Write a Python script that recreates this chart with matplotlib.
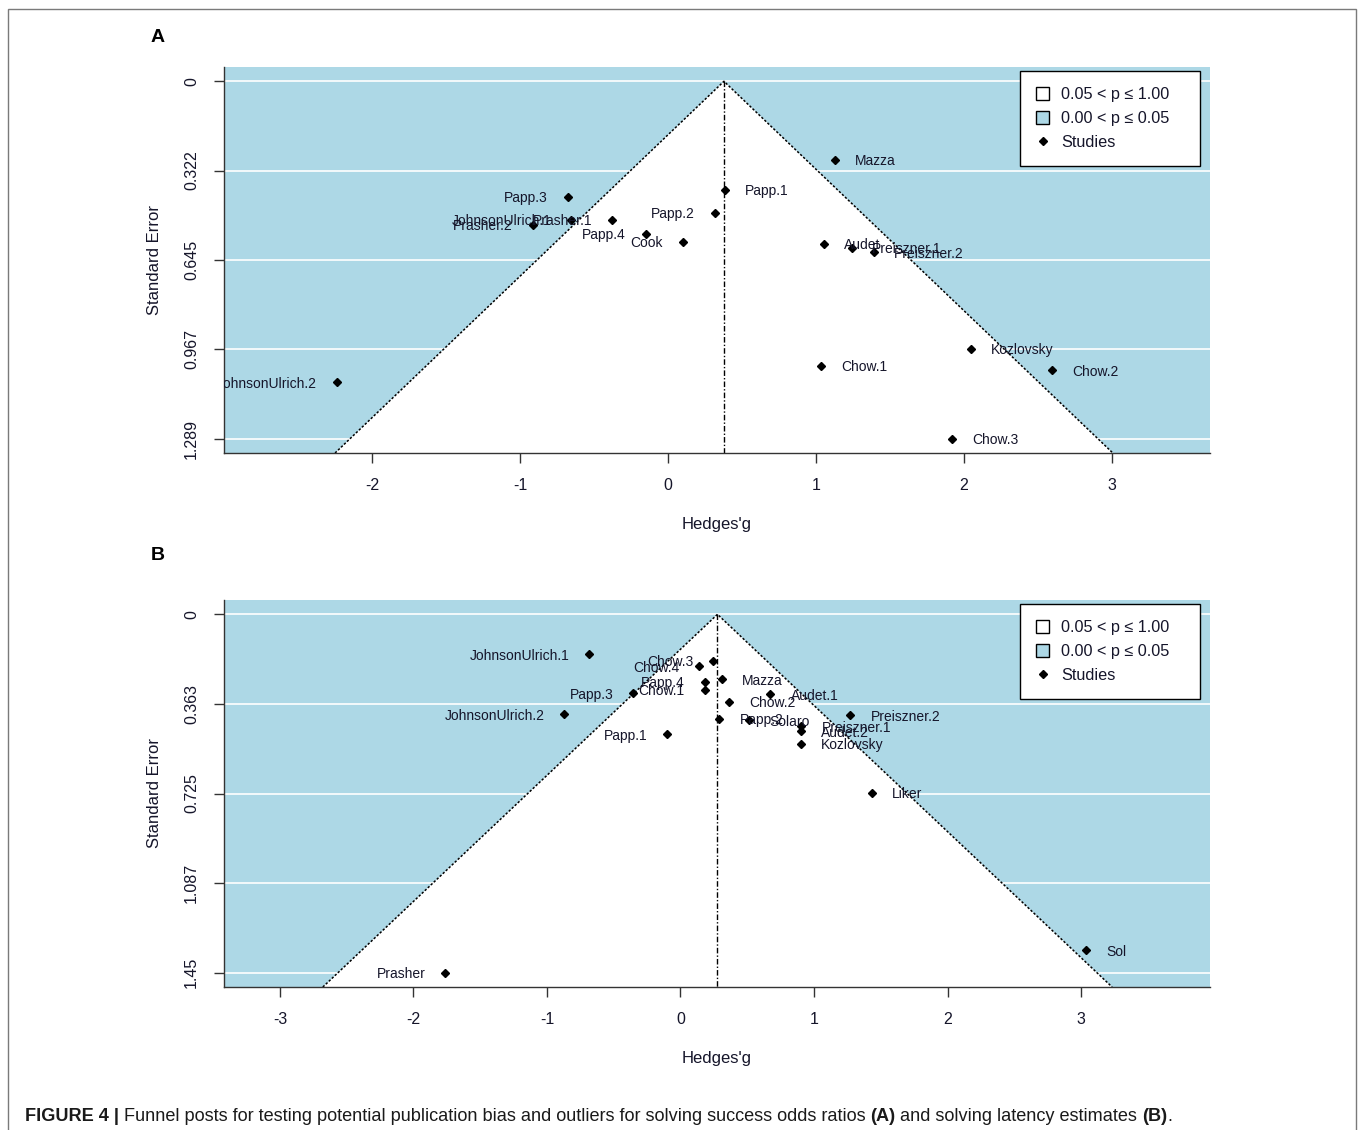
import numpy as np
import matplotlib
matplotlib.use("Agg")
import matplotlib.pyplot as plt
from matplotlib.patches import Patch, Rectangle
from matplotlib.lines import Line2D
from matplotlib import font_manager

plt.rcParams['font.family'] = ['Liberation Sans', 'DejaVu Sans']

# ---- panel A: solving success odds ratios ----
names_a = ["Mazza", "Papp.1", "Papp.3", "Papp.2", "JohnsonUlrich.1", "Prasher.2",
           "Prasher.1", "Papp.4", "Cook", "Audet", "Preiszner.1", "Preiszner.2",
           "Kozlovsky", "Chow.1", "Chow.2", "Chow.3", "JohnsonUlrich.2"]
g_a = [1.128, 0.385, -0.676, 0.318, -0.655, -0.912, -0.378, -0.149, 0.101,
       1.054, 1.241, 1.392, 2.047, 1.034, 2.595, 1.919, -2.236]
se_a = [0.284, 0.392, 0.417, 0.475, 0.500, 0.518, 0.500, 0.550, 0.579,
        0.586, 0.601, 0.617, 0.964, 1.025, 1.043, 1.289, 1.086]
est_a = 0.378
se_ticks_a = [0, 0.322, 0.645, 0.967, 1.289]
se_labels_a = ["0", "0.322", "0.645", "0.967", "1.289"]
g_ticks_a = [-2, -1, 0, 1, 2, 3]
xlim_a = (-3.0, 3.662)

# ---- panel B: solving latency estimates ----
names_b = ["JohnsonUlrich.1", "Chow.3", "Chow.4", "Papp.4", "Chow.1", "Papp.3",
           "Mazza", "Audet.1", "Chow.2", "Papp.2", "Solaro", "Preiszner.1",
           "Audet.2", "Kozlovsky", "Preiszner.2", "Papp.1", "JohnsonUlrich.2",
           "Liker", "Sol", "Prasher"]
g_b = [-0.682, 0.245, 0.142, 0.182, 0.182, -0.352, 0.312, 0.674, 0.362, 0.292,
       0.512, 0.906, 0.899, 0.899, 1.273, -0.100, -0.869, 1.431, 3.040, -1.760]
se_b = [0.162, 0.189, 0.210, 0.274, 0.305, 0.320, 0.263, 0.324, 0.355, 0.422,
        0.429, 0.453, 0.474, 0.523, 0.409, 0.486, 0.405, 0.721, 1.360, 1.450]
est_b = 0.277
se_ticks_b = [0, 0.363, 0.725, 1.087, 1.45]
se_labels_b = ["0", "0.363", "0.725", "1.087", "1.45"]
g_ticks_b = [-3, -2, -1, 0, 1, 2, 3]
xlim_b = (-3.419, 3.966)

legend_labels = ["0.05 < p \u2264 1.00", "0.00 < p \u2264 0.05", "Studies"]

BLUE = '#ADD8E6'
INK = '#15152a'
W, H = 1358, 1130


fig = plt.figure(figsize=(W / 100, H / 100), dpi=100)


def funnel(rect, names, g, se, est, yt, ylab, xt, xlim, leg_top):
    ax = fig.add_axes(rect)
    ymax = max(se)
    pad = 0.04 * ymax
    bottom = ymax + pad
    ax.set_xlim(xlim)
    ax.set_ylim(bottom, -pad)
    ax.set_facecolor(BLUE)

    # white funnel (p > 0.05) and reference lines
    for t in yt:
        ax.axhline(t, color='white', lw=1.2, zorder=0.5)
    fx = [est - 1.96 * bottom, est, est + 1.96 * bottom]
    fy = [bottom, 0, bottom]
    ax.fill(fx, fy, color='white', lw=0, zorder=1)
    ax.plot(fx, fy, color='black', ls=(0, (1.5, 1.2)), lw=1.1, zorder=2)
    ax.plot([est, est], [0, bottom], color='black', ls=(0, (4, 1.5, 1, 1.5)),
            lw=1, zorder=2)

    ax.plot(g, se, 'D', ms=4.5, color='black', zorder=3)
    for n, x, y in zip(names, g, se):
        left = x < est
        ax.annotate(n, (x, y), xytext=(-14.4 if left else 14.4, -1),
                    textcoords='offset points', ha='right' if left else 'left',
                    va='center', fontsize=10, color=INK, clip_on=True, zorder=4)

    for s in ['top', 'right']:
        ax.spines[s].set_visible(False)
    for s in ['left', 'bottom']:
        ax.spines[s].set_linewidth(1)
        ax.spines[s].set_color('#333333')

    ax.set_yticks(yt)
    ax.set_yticklabels(ylab, rotation=90, va='center')
    ax.set_xticks(xt)
    ax.set_xticklabels([str(v) for v in xt])
    ax.tick_params(length=7, width=1, pad=11, labelsize=11.5, colors='#333333',
                   labelcolor=INK)

    ax.set_ylabel("Standard Error", fontsize=12, color=INK)
    ax.yaxis.set_label_coords((162 - 224) / 986, 0.5)
    ax.set_xlabel("Hedges'g", fontsize=12, color=INK, va='top')
    ax.xaxis.set_label_coords(0.5, -0.166)

    handles = [Patch(facecolor='white', edgecolor='black', lw=1),
               Patch(facecolor=BLUE, edgecolor='black', lw=1),
               Line2D([], [], marker='D', ms=4.5, color='black', ls='none')]
    leg = ax.legend(handles, legend_labels, loc='upper left', mode='expand',
                    bbox_to_anchor=(1020 / W, 1 - (leg_top + 92) / H, 180 / W, 92 / H),
                    bbox_transform=fig.transFigure, borderaxespad=0,
                    fontsize=11.7, frameon=True, fancybox=False, framealpha=1,
                    edgecolor='black', handlelength=0.8, handleheight=0.8,
                    handletextpad=0.75, labelspacing=0.55, borderpad=1.0)
    leg.get_frame().set_linewidth(1)
    for t in leg.get_texts():
        t.set_color(INK)
    return ax


funnel([224 / W, 1 - 453 / H, 986 / W, 386 / H], names_a, g_a, se_a, est_a,
       se_ticks_a, se_labels_a, g_ticks_a, xlim_a, 71)
funnel([224 / W, 1 - 987 / H, 986 / W, 387 / H], names_b, g_b, se_b, est_b,
       se_ticks_b, se_labels_b, g_ticks_b, xlim_b, 604)

fig.text(158 / W, 1 - 37 / H, "A", fontsize=14, weight='bold', ha='center', va='center')
fig.text(158 / W, 1 - 555 / H, "B", fontsize=14, weight='bold', ha='center', va='center')

# frame around the figure
fig.add_artist(Rectangle((8 / W, -0.02), 1348 / W, 1 - 9 / H + 0.02,
                         transform=fig.transFigure, fill=False,
                         edgecolor='#7a7a7a', lw=1))

# caption with bold pieces
try:
    font_manager.findfont('Liberation Sans Narrow', fallback_to_default=False)
    cap_font = 'Liberation Sans Narrow'
except ValueError:
    cap_font = 'Liberation Sans'

parts = [("FIGURE 4 |", 'bold', False),
         ("Funnel posts for testing potential publication bias and outliers for "
          "solving success odds ratios", 'normal', True),
         ("(A)", 'bold', True),
         ("and solving latency estimates", 'normal', True),
         ("(B)", 'bold', True),
         (".", 'normal', False)]


def caption(size):
    r = fig.canvas.get_renderer()
    x = 25 / W
    out = []
    for i, (text, weight, space) in enumerate(parts):
        if space:
            x += 0.27 * size * 100 / 72 / W
        t = fig.text(x, 1 - 1121 / H, text, fontsize=size, weight=weight,
                     va='baseline', color='#1a1a1a', family=[cap_font, 'DejaVu Sans'])
        out.append(t)
        x = t.get_window_extent(renderer=r).x1 / fig.bbox.width
    return out, x


size = 13.5
texts, x_end = caption(size)
scale = (1170 / W - 25 / W) / (x_end - 25 / W)
for t in texts:
    t.remove()
texts, x_end = caption(size * scale)

fig.savefig("out.png", dpi=100)
